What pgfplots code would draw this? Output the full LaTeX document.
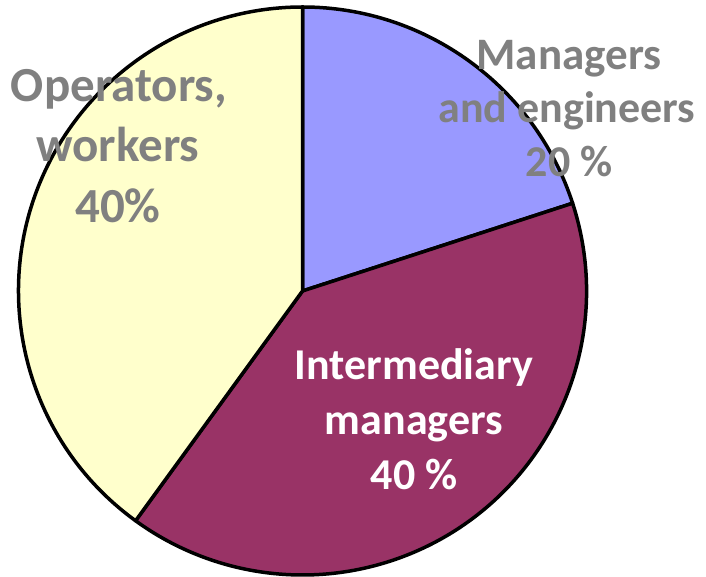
\documentclass[border=0pt]{standalone}
\usepackage{pgfplots}
\pgfplotsset{compat=1.18}
\usepackage{fontspec}
\setmainfont{Carlito}
\definecolor{mgr}{HTML}{9999FF}
\definecolor{inter}{HTML}{993366}
\definecolor{oper}{HTML}{FFFFCC}
\definecolor{lbl}{HTML}{808080}
% data (percent)
\def\valA{20}% Managers and engineers
\def\valB{40}% Intermediary managers
\def\valC{40}% Operators, workers
\pgfmathsetmacro\aA{90}
\pgfmathsetmacro\aB{\aA-3.6*\valA}
\pgfmathsetmacro\aC{\aB-3.6*\valB}
\pgfmathsetmacro\aD{\aC-3.6*\valC}
\def\pcx{302.5}\def\pcy{286}\def\prad{284}
\begin{document}
\begin{tikzpicture}
\begin{axis}[x=1pt,y=1pt,xmin=0,xmax=706,ymin=0,ymax=577,hide axis,clip=false,
  anchor=south west,at={(0,0)}]
\filldraw[fill=mgr,draw=black,line width=3.5pt,line join=round] (axis cs:\pcx,\pcy) -- ++(\aA:\prad pt) arc[start angle=\aA,end angle=\aB,radius=\prad pt] -- cycle;
\filldraw[fill=inter,draw=black,line width=3.5pt,line join=round] (axis cs:\pcx,\pcy) -- ++(\aB:\prad pt) arc[start angle=\aB,end angle=\aC,radius=\prad pt] -- cycle;
\filldraw[fill=oper,draw=black,line width=3.5pt,line join=round] (axis cs:\pcx,\pcy) -- ++(\aC:\prad pt) arc[start angle=\aC,end angle=\aD,radius=\prad pt] -- cycle;
\tikzset{lb/.style={font=\fontsize{44}{50}\selectfont\bfseries,anchor=base,inner sep=0pt}}
\node[lb,text=lbl,font=\fontsize{45}{50}\selectfont\bfseries] at (axis cs:569,507) {Managers};
\node[lb,text=lbl] at (axis cs:567,454) {and engineers};
\node[lb,text=lbl] at (axis cs:569,400) {20 \%};
\node[lb,text=lbl,font=\fontsize{49}{50}\selectfont\bfseries] at (axis cs:119,475) {Operators,};
\node[lb,text=lbl,font=\fontsize{49}{50}\selectfont\bfseries] at (axis cs:118,415) {workers};
\node[lb,text=lbl,font=\fontsize{49}{50}\selectfont\bfseries] at (axis cs:118,354) {40\%};
\node[lb,text=white] at (axis cs:414,197) {Intermediary};
\node[lb,text=white] at (axis cs:414,142) {managers};
\node[lb,text=white] at (axis cs:414,87) {40 \%};
\end{axis}
\pgfresetboundingbox
\path (0,0) rectangle (706pt,577pt);
\end{tikzpicture}
\end{document}
